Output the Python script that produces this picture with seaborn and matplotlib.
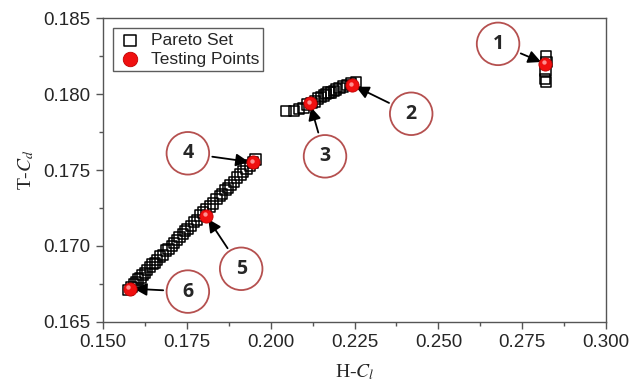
import numpy as np
import pandas as pd
import matplotlib
matplotlib.use("Agg")
import matplotlib.pyplot as plt
from matplotlib.ticker import MultipleLocator
import seaborn as sns

# pareto set, three clusters
pareto_x = [
    # low branch
    0.1575, 0.1585, 0.1592, 0.1598, 0.1605, 0.1612, 0.1618, 0.1625, 0.1632, 0.1640,
    0.1648, 0.1655, 0.1662, 0.1670, 0.1678, 0.1688, 0.1695, 0.1705, 0.1712, 0.1720,
    0.1728, 0.1738, 0.1745, 0.1752, 0.1762, 0.1772, 0.1780, 0.1790, 0.1798, 0.1808,
    0.1818, 0.1828, 0.1838, 0.1848, 0.1855, 0.1865, 0.1872, 0.1880, 0.1890, 0.1900,
    0.1910, 0.1918, 0.1928, 0.1938, 0.1948, 0.1955,
    # middle branch
    0.2045, 0.2070, 0.2085, 0.2098, 0.2110, 0.2122, 0.2132, 0.2142, 0.2150, 0.2158,
    0.2165, 0.2172, 0.2180, 0.2188, 0.2195, 0.2205, 0.2215, 0.2228, 0.2240, 0.2255,
    # right cluster
    0.2820, 0.2822, 0.2819, 0.2818, 0.2821,
]
pareto_y = [
    0.1671, 0.1673, 0.1675, 0.1676, 0.1678, 0.1679, 0.1681, 0.1682, 0.1684, 0.1686,
    0.1688, 0.1689, 0.1691, 0.1693, 0.1694, 0.1697, 0.1698, 0.1700, 0.1702, 0.1704,
    0.1706, 0.1708, 0.1710, 0.1711, 0.1713, 0.1716, 0.1717, 0.1720, 0.1722, 0.1724,
    0.1726, 0.1728, 0.1731, 0.1733, 0.1734, 0.1737, 0.1738, 0.1740, 0.1742, 0.1745,
    0.1747, 0.1749, 0.1751, 0.1753, 0.1755, 0.1757,
    0.1789, 0.1789, 0.1790, 0.1791, 0.1793, 0.1794, 0.1795, 0.1797, 0.1798, 0.1799,
    0.1800, 0.1801, 0.1801, 0.1802, 0.1803, 0.1804, 0.1805, 0.1806, 0.1807, 0.1808,
    0.1825, 0.1821, 0.1815, 0.1810, 0.1808,
]

# testing points 1..6
test_labels = ["1", "2", "3", "4", "5", "6"]
test_x = [0.2818, 0.2243, 0.2117, 0.1947, 0.1807, 0.1580]
test_y = [0.1820, 0.1806, 0.1794, 0.1755, 0.1720, 0.1672]

# where the numbered circles sit
circle_x = [0.2678, 0.2419, 0.2162, 0.1753, 0.1912, 0.1753]
circle_y = [0.1833, 0.1787, 0.1759, 0.1761, 0.1685, 0.1670]

pareto = pd.DataFrame({"x": pareto_x, "y": pareto_y})
tests = pd.DataFrame({"x": test_x, "y": test_y})

sns.set_style("ticks")
plt.rcParams["font.family"] = ["Liberation Sans", "DejaVu Sans"]
plt.rcParams["mathtext.fontset"] = "stix"

fig = plt.figure(figsize=(6.3, 3.9), dpi=100)
ax = fig.add_axes([0.1635, 0.1744, 0.7985, 0.7794])

sns.scatterplot(data=pareto, x="x", y="y", ax=ax, marker="s", s=55,
                facecolor="none", edgecolor="black", linewidth=1.1,
                label="Pareto Set", zorder=3)
sns.scatterplot(data=tests, x="x", y="y", ax=ax, marker="o", s=90,
                color="#f01010", edgecolor="#c00000", linewidth=0.6,
                label="Testing Points", zorder=5)
# small highlight to mimic the shaded spheres
ax.scatter([x - 0.0004 for x in test_x], [y + 0.00008 for y in test_y],
           s=10, color="#ff9090", linewidths=0, zorder=6)

for lab, px, py, cx, cy in zip(test_labels, test_x, test_y, circle_x, circle_y):
    ax.annotate(lab, xy=(px, py), xytext=(cx, cy), ha="center", va="center",
                fontsize=14, fontweight="bold", family="Open Sans",
                bbox=dict(boxstyle="circle,pad=0.58", fc="white", ec="#b5504f", lw=1.3),
                arrowprops=dict(arrowstyle="-|>,head_length=0.55,head_width=0.27",
                                color="black", lw=1.3, shrinkB=3),
                zorder=4)

ax.set_xlim(0.150, 0.300)
ax.set_ylim(0.165, 0.185)
ax.xaxis.set_major_locator(MultipleLocator(0.025))
ax.xaxis.set_minor_locator(MultipleLocator(0.0125))
ax.yaxis.set_major_locator(MultipleLocator(0.005))
ax.yaxis.set_minor_locator(MultipleLocator(0.0025))
ax.xaxis.set_major_formatter(matplotlib.ticker.FormatStrFormatter("%.3f"))
ax.yaxis.set_major_formatter(matplotlib.ticker.FormatStrFormatter("%.3f"))
ax.tick_params(which="major", length=5, width=1, color="#555555", labelsize=13.5, pad=4)
ax.tick_params(which="minor", length=3, width=1, color="#555555")
for sp in ax.spines.values():
    sp.set_color("#555555")
    sp.set_linewidth(1)

ax.set_xlabel("H-$C_l$", fontsize=14, family="Liberation Serif", labelpad=8)
ax.set_ylabel("T-$C_d$", fontsize=14, family="Liberation Serif", labelpad=5)

leg = ax.legend(loc="upper left", fontsize=12.5, frameon=True, fancybox=False,
                edgecolor="#333333", borderpad=0.25, handletextpad=0.5,
                labelspacing=0.2, borderaxespad=0.6, handlelength=1.4,
                markerscale=1.1)
leg.get_frame().set_linewidth(1)

fig.savefig("out.png", dpi=100)
